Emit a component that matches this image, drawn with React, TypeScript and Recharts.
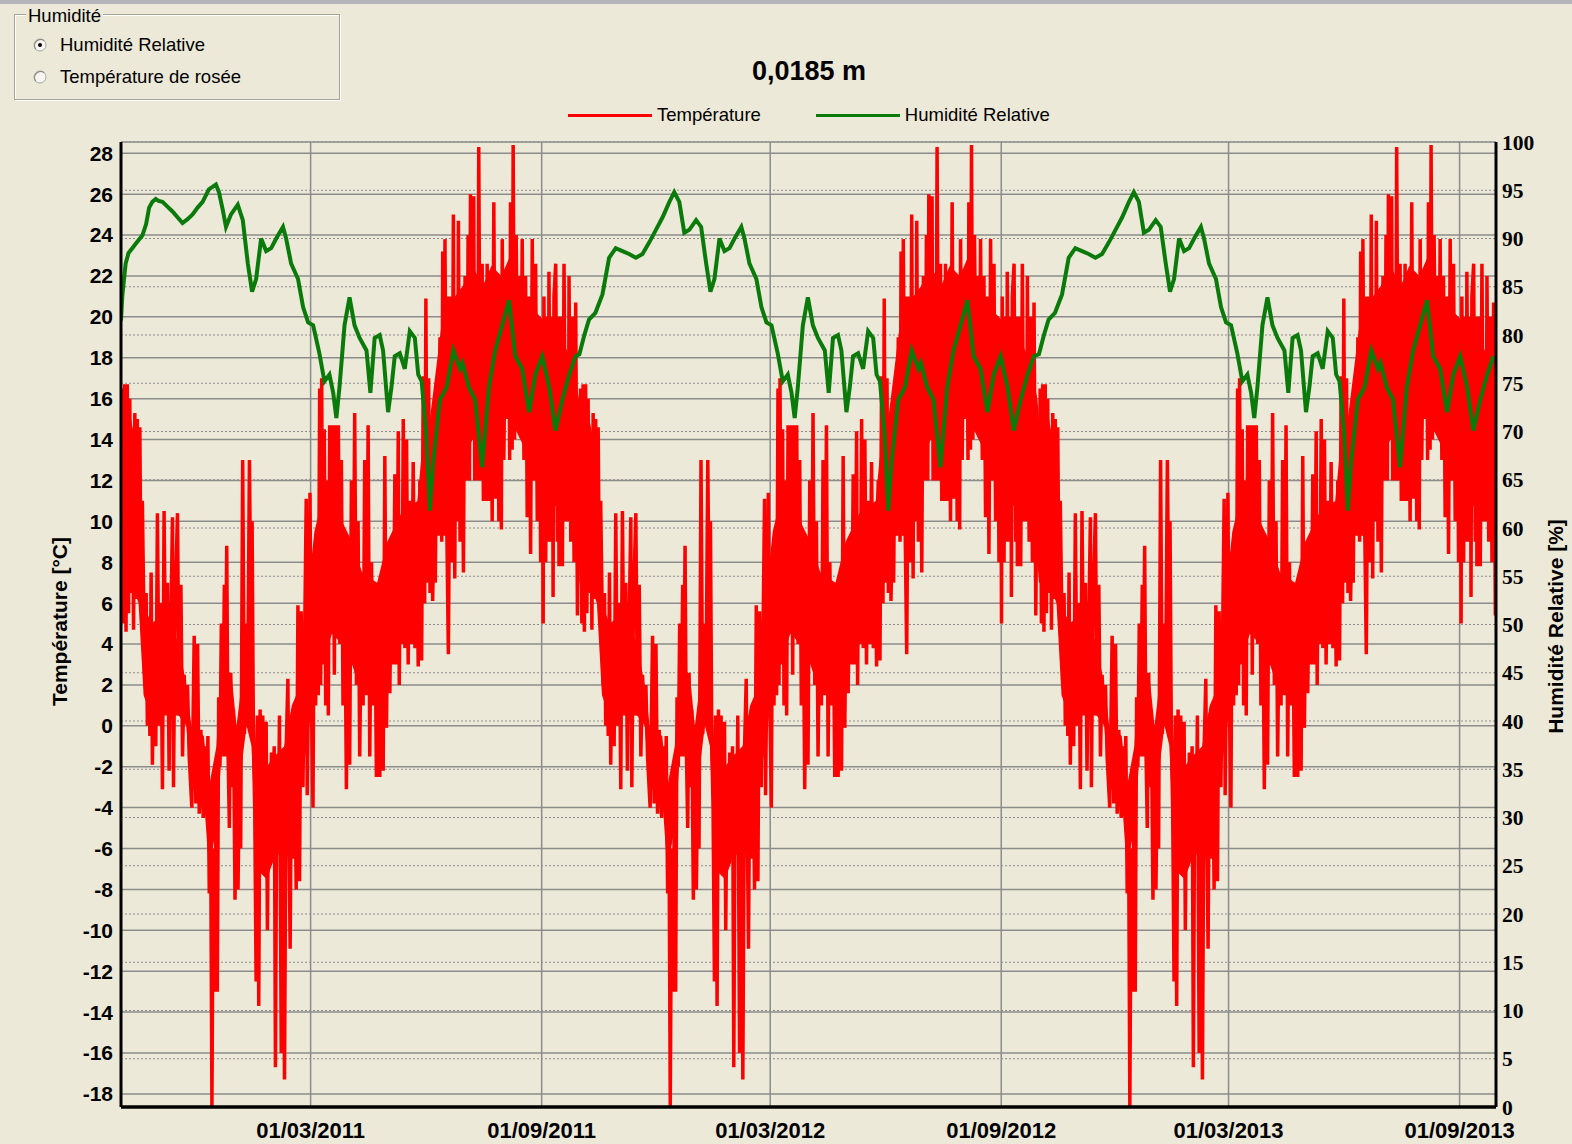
import React from 'react';
import { ComposedChart, Line, Area, XAxis, YAxis, CartesianGrid, Legend } from 'recharts';

// ---- axes / ticks ----
const xDomain: [number, number] = [0, 1095]; // days since 01/10/2010
const xTickDays = [151, 335, 517, 701, 882, 1066];
const xTickLabels = ['01/03/2011', '01/09/2011', '01/03/2012', '01/09/2012', '01/03/2013', '01/09/2013'];
const tempDomain: [number, number] = [-18.64, 28.55];
const tempTicks = [-18, -16, -14, -12, -10, -8, -6, -4, -2, 0, 2, 4, 6, 8, 10, 12, 14, 16, 18, 20, 22, 24, 26, 28];
const humDomain: [number, number] = [0, 100];
const humTicks = [0, 5, 10, 15, 20, 25, 30, 35, 40, 45, 50, 55, 60, 65, 70, 75, 80, 85, 90, 95, 100];
const seriesNames = ['Température', 'Humidité Relative'];

// start day of each yearly cycle (01/10/2010, 01/10/2011, 01/10/2012)
const cycleStarts = [0, 365, 731];

// temperature [°C] over one cycle: [day in cycle, value] (same yearly record shown three times)
const tempCycle: [number, number][] = [
  [0, 10], [1, 16.5], [2, 5], [3, 16.7], [4, 4.6], [5, 16.7], [6, 5.5], [7, 16], [8, 6.5], [9, 14], [10, 4.7], [11, 15.3], [12, 6.2], [13, 15], [14, 7], [15, 14.6], [16, 6.2], [17, 11], [18, 6.5], [19, 2], [20, 6.5], [21, 0], [22, 4], [23, -0.5], [24, 7.5], [25, -1.9],
  [26.4, 5], [27.7, -1], [29, 10.4], [30.4, 0], [31.7, 6], [33, -3.1], [34.3, 10.5], [35.7, 1], [37, 7], [38.3, -2.2], [39.7, 5], [41, 10.2], [41.8, -3], [43.1, 6], [45, 10.4], [46.3, 0.5], [47.7, 6.9], [49, -1.5], [50.3, 2.5], [51.7, 0.5], [53, 2], [54.3, -1.5], [56.4, -4], [58.3, 4.4], [59.6, -3.8], [61, 4], [62.3, -4.3], [63.6, -0.2], [65.5, -4.5], [67.1, -1], [68.2, -4], [69.2, -0.5], [70.3, -8.2], [71.4, -5], [72.4, -18.6], [73.5, -6], [74.6, -13], [75.6, -4.6], [76.7, -13],
  [77.8, 1.4], [78.8, -2], [79.9, 5], [81, -1], [82.3, 6.9], [83.1, 1], [84.2, 8.8], [85.2, -1], [86.3, -5], [87.4, 2.6], [88.4, -3], [89.5, 0.8], [90.8, -8.5], [92.1, 0], [93.2, -8], [94.3, -2], [95.3, -6], [96.9, 13], [98.3, -0.4], [99.6, 5], [100.9, 2], [102.3, 13], [103.6, 4], [104.4, 10], [105.5, -1], [106.5, -4], [107.6, -12.5], [108.6, 0.5], [109.7, -13.7], [110.8, 0.8], [111.8, -4], [112.9, 0.5], [114.2, -6], [115.6, 0.2], [116.6, -10], [117.7, -2], [118.8, -5], [119.8, -1.3], [120.9, -4.6], [122, -1], [123, -16.7], [124.1, -2], [125.2, -6], [126.2, 0.5], [127.6, -16], [128.9, -1.5], [130.2, -17.3], [131.6, -1], [132.9, 2.3], [133.9, -6], [134.7, -10.9], [135.8, -1], [136.8, -6.5], [138.2, 0], [139.5, -8], [140.9, 5.9], [142.2, -7.6], [143.5, 5.6], [144.9, -3], [146.2, 4], [147.5, 11.1], [148.3, -3.4], [149.4, 3], [150.5, 11.4], [151.5, 2], [152.9, -4], [153.9, 8.1], [155, 1], [156.1, 8], [157.1, 1.5],
  [158.2, 16.5], [159, 2], [159.8, 17], [160.9, 3], [161.9, 14.5], [163, 1], [164, 12], [165.1, 0.5], [166.2, 14.7], [167.5, 5], [168.8, 14.7], [169.9, 2.5], [170.9, 14.7], [172, 7], [173.1, 14.7], [174.2, 4], [175.5, 13], [176.8, 1], [178.2, 7], [179.5, -3.1], [180.8, 8], [182.1, -1.9], [183.5, 12], [184.8, 3], [186.1, 15.3], [187.5, 2], [188.8, 10], [190.1, -1.5], [191.5, 6], [192.8, 1], [194.1, 13], [195.5, 3], [196.8, 14.7], [198.1, -1.5], [199.5, 8], [200.8, 1], [202.1, 7], [203.4, -2.5], [204.8, 5], [206.1, -2.5], [207.4, 6], [208.8, -2.2],
  [210.1, 13.2], [211.4, -0.1], [212.8, 8], [214.1, 1.6], [215.4, 9], [216.8, 3], [218.1, 12.3], [219.4, 3], [220.8, 14.4], [221.6, 2], [222.6, 10], [223.7, 4], [224.8, 15], [226.1, 3.8], [227.4, 14], [228.7, 3], [230.1, 11], [231.4, 4], [232.7, 12.9], [234.1, 3.8], [235.4, 10], [236.7, 2.9], [238, 12], [239.4, 3.2], [240.7, 17.1], [241.8, 6], [242.8, 20.9], [243.9, 7], [245, 17], [246.1, 6.5], [247.1, 13], [248.2, 6.1], [249.3, 10], [250.3, 7], [251.4, 15], [252.7, 9.3], [254, 19], [255.4, 9], [256.2, 23.2], [257.3, 9.3], [258, 23.8], [259.4, 10], [260.7, 3.5], [262, 15], [263.4, 8], [264.7, 25], [265.8, 7.2], [266.8, 20], [267.9, 10], [268.7, 24.7], [270, 9],
  [271.4, 18], [272.7, 7.5], [274, 22], [275.4, 12], [276.4, 24], [277.5, 12], [278.3, 26], [279.6, 14], [280.9, 25.9], [281.7, 12], [282.8, 20], [283.9, 12], [284.9, 28.3], [286.2, 12], [287.6, 22.6], [288.6, 11], [290.2, 18], [290.9, 11], [291.6, 22.6], [292.9, 11], [294.2, 20], [295.6, 10], [296.9, 25.6], [298.2, 11.1], [299.6, 22], [300.9, 10], [302.2, 21], [302.9, 9.6], [303.6, 23.8], [304.9, 13], [306.2, 22], [307.5, 15], [308.9, 20], [309.5, 13], [310.2, 25.6], [311.5, 13.5], [312.3, 28.4], [313.4, 14], [314.7, 24], [316.1, 15], [317.4, 22], [318.5, 14.1], [319.5, 23.8], [320.9, 13], [322.2, 22], [323.5, 10.2], [324.9, 21], [326.2, 8.4], [327.5, 23.8], [328.9, 12], [330.2, 22.6], [331.5, 10], [332.9, 20], [334.2, 8],
  [335.5, 18], [336.2, 5], [336.8, 21], [338.2, 8], [339.5, 20], [340.2, 9], [340.8, 22.2], [342.2, 9], [343.5, 20], [344.1, 6.3], [344.8, 21], [346.2, 22.6], [347.5, 9], [348.1, 20], [348.8, 7.8], [350.2, 20], [351.5, 7.8], [352.8, 22.6], [354.2, 10], [355.5, 18], [356.2, 10], [356.8, 22], [358.2, 9], [359.5, 20], [360.8, 8], [362.1, 20.7], [363.5, 5.4], [364.8, 15],
];

// dense core of the daily temperature band over one cycle: [day in cycle, low, high]
const tempCore: [number, number, number][] = [
  [0, 7, 15], [8, 7, 15], [14, 6, 13], [18, 1.5, 6], [24, 0.5, 5], [36, 0.5, 5.5], [46, 0.5, 4], [52, 0, 2], [56, -3, 0], [66, -3.5, -0.5], [70, -7, -3], [76, -5, -1], [80, -1.5, 3], [88, -1.5, 2.5], [92, -4, 0], [96, -2, 2], [100, 0, 5], [104, -1, 4], [108, -7, -1.6], [116, -7.5, -2], [122, -6.5, -1.5], [130, -6, -1], [136, -4.5, 1], [143, -3, 2], [148, -1, 6], [154, 2, 9.5], [160, 3, 11], [168, 4.5, 11], [176, 4, 10], [184, 3, 9], [192, 1.5, 7.5], [204, 1.5, 7], [212, 4, 9], [224, 5, 10.5], [236, 5, 11],
  [239, 7, 13], [246, 8, 15], [252, 10, 18], [258, 11, 21], [266, 12, 21], [272, 13, 21.5], [280, 14, 22.5], [288, 14, 21.5], [295, 15, 22.5], [303, 15, 22], [310, 15, 23], [318, 14, 21], [326, 13, 20.5], [334, 12, 20], [342, 11, 19.5], [350, 10.5, 19], [358, 10, 18], [364.8, 8, 16],
];

// relative humidity [%]: autumn part of the first cycle
const humEarlyFirst: [number, number][] = [
  [0, 81.5], [1, 84], [3.7, 87.4], [6, 88.5], [9, 89], [12, 89.5], [17, 90.3], [20, 91.5], [22.4, 93.2], [25, 93.8], [27.7, 94.1], [30, 93.9], [33, 93.8], [37, 93.3], [41, 92.8], [45, 92.2], [49, 91.6], [53, 92], [57, 92.5], [61, 93.2], [65, 93.8], [70, 95.1], [75.6, 95.6], [78, 94.8], [81, 93], [83.6, 91.2], [87.6, 92.5], [93, 93.5], [97, 91.9],
];
// relative humidity [%]: autumn part of the second and third cycles
const humEarlyNext: [number, number][] = [
  [0, 78], [4, 80], [7.7, 81.6], [12.8, 82.3], [18.4, 84.2], [23.7, 88], [29, 89], [34.3, 88.7], [39.6, 88.4], [45, 88], [50.3, 88.4], [55.7, 89.6], [61, 90.9], [66.3, 92.2], [71.7, 93.8], [75.6, 94.8], [79.6, 93.8], [83.6, 90.6], [87.6, 90.9], [93, 91.9], [97, 91.2],
];
// relative humidity [%]: rest of each cycle
const humLate: [number, number][] = [
  [101, 87.4], [104.4, 84.5], [107.6, 85.8], [111.6, 90], [115.6, 88.7], [119.6, 89], [123.6, 90], [129, 91.2], [131.5, 90], [135.5, 87.4], [141, 85.8], [145, 82.9], [149, 81.3], [153, 81], [158, 78.1], [162, 75.2], [166, 75.9], [169, 74], [171.5, 71.4], [174, 74.6], [178, 81], [182, 83.9], [186, 81], [190, 79.7], [195.5, 78.4], [198.6, 74], [202, 79.7], [206, 80], [208.7, 78.4], [212.7, 72], [215.4, 74.6], [218, 77.8], [222, 78.1], [226, 76.5], [230, 80.4], [234, 79.7], [236.7, 75.9], [239.4, 75.2], [243, 70], [246, 61.8], [248.7, 66.9], [254, 73.3], [259.4, 74.6], [264.7, 78.4], [270, 76.5], [272, 77.1], [277, 74.6], [282, 73.3], [287.6, 66.3], [293, 74.6], [298, 78.4], [303.6, 81], [309, 83.6], [314, 77.8], [319.5, 76.5], [325, 72], [330, 75.9], [335.5, 77.8], [341, 74.6], [346, 70.1], [351.5, 73.3], [357, 75.9], [362, 77.8],
];

const tempData = cycleStarts
  .flatMap((s) => tempCycle.map(([d, v]) => ({ d: s + d, t: v })))
  .filter((p) => p.d <= xDomain[1]);

const coreData = cycleStarts
  .flatMap((s) => tempCore.map(([d, lo, hi]) => ({ d: s + d, band: [lo, hi] })))
  .filter((p) => p.d <= xDomain[1]);

const humData = cycleStarts
  .flatMap((s, i) => [...(i === 0 ? humEarlyFirst : humEarlyNext), ...humLate].map(([d, v]) => ({ d: s + d, h: v })))
  .filter((p) => p.d <= xDomain[1]);

const BG = '#ECE9D8';
const SANS = '"Liberation Sans", Arial, sans-serif';
const SERIF = '"Liberation Serif", "Times New Roman", serif';
const RED = '#FF0000';
const GREEN = '#0A7A0A';

const renderLegend = (props: any) => {
  const items = (props.payload || [])
    .filter((it: any) => seriesNames.includes(it.value))
    .sort((a: any, b: any) => seriesNames.indexOf(a.value) - seriesNames.indexOf(b.value));
  return (
    <div style={{ display: 'flex', alignItems: 'center', fontFamily: SANS, fontSize: 18.5, color: '#000' }}>
      {items.map((it: any, i: number) => (
        <div key={i} style={{ display: 'flex', alignItems: 'center', marginRight: 55 }}>
          <div style={{ width: 84, height: 3, background: it.color, marginRight: 5 }} />
          <span style={{ lineHeight: '22px' }}>{it.value}</span>
        </div>
      ))}
    </div>
  );
};

const Radio = ({ checked, top }: { checked: boolean; top: number }) => (
  <svg width={14} height={14} style={{ position: 'absolute', left: 33, top }}>
    <circle cx={7} cy={7} r={6} fill="#f7f6f1" stroke="#a8a8a0" strokeWidth={1} />
    <path d="M 2.8 11.2 A 6 6 0 0 1 11.2 2.8" fill="none" stroke="#8a8a84" strokeWidth={1.2} />
    {checked && <circle cx={7} cy={7} r={2} fill="#000" />}
  </svg>
);

const leftTitle = (props: any) => {
  const vb = props.viewBox || { x: 0, y: 142, width: 121, height: 965 };
  const x = vb.x + 67;
  const y = vb.y + vb.height / 2 - 3;
  return (
    <text x={x} y={y} transform={`rotate(-90, ${x}, ${y})`} textAnchor="middle" fontFamily={SANS} fontWeight="bold" fontSize={21} fill="#000">
      Température [°C]
    </text>
  );
};

const rightTitle = (props: any) => {
  const vb = props.viewBox || { x: 1496, y: 142, width: 76, height: 965 };
  const x = vb.x + 67;
  const y = vb.y + vb.height / 2 + 2;
  return (
    <text x={x} y={y} transform={`rotate(-90, ${x}, ${y})`} textAnchor="middle" fontFamily={SANS} fontWeight="bold" fontSize={21} fill="#000">
      Humidité Relative [%]
    </text>
  );
};

export default function App() {
  return (
    <div style={{ position: 'absolute', left: 0, top: 0, width: 1572, height: 1144, background: BG, overflow: 'hidden', fontFamily: SANS }}>
      <style>{'body{margin:0;background:' + BG + ';}'}</style>
      <div style={{ position: 'absolute', left: 0, top: 0, width: 1572, height: 4, background: '#B4B4BA' }} />

      <div style={{ position: 'absolute', left: 0, top: 0 }}>
        <ComposedChart width={1572} height={1144} margin={{ top: 142, right: 0, bottom: 0, left: 0 }}>
          <CartesianGrid xAxisId="x" yAxisId="left" stroke="#8c8c8c" strokeWidth={1.5} vertical={true} horizontal={true} />
          <CartesianGrid xAxisId="x" yAxisId="right" stroke="#8c8c8c" strokeWidth={1.2} strokeDasharray="2 2" vertical={false} horizontal={true} />
          <XAxis
            xAxisId="x"
            dataKey="d"
            type="number"
            domain={xDomain}
            allowDataOverflow
            ticks={xTickDays}
            interval={0}
            tickFormatter={(v: number) => xTickLabels[xTickDays.indexOf(v)] ?? ''}
            height={37}
            tickSize={0}
            tickMargin={15}
            axisLine={{ stroke: '#000', strokeWidth: 3.5 }}
            tick={{ fill: '#000', fontSize: 22, fontWeight: 'bold', fontFamily: SANS }}
          />
          <XAxis
            xAxisId="top"
            orientation="top"
            type="number"
            domain={xDomain}
            height={0}
            tick={false}
            tickLine={false}
            axisLine={{ stroke: '#000', strokeWidth: 2 }}
          />
          <YAxis
            yAxisId="left"
            orientation="left"
            type="number"
            domain={tempDomain}
            allowDataOverflow
            ticks={tempTicks}
            interval={0}
            width={121}
            tickSize={0}
            tickMargin={8}
            axisLine={{ stroke: '#000', strokeWidth: 3 }}
            tick={{ fill: '#000', fontSize: 21, fontWeight: 'bold', fontFamily: SANS }}
            label={{ content: leftTitle }}
          />
          <YAxis
            yAxisId="right"
            orientation="right"
            type="number"
            domain={humDomain}
            allowDataOverflow
            ticks={humTicks}
            interval={0}
            width={76}
            tickSize={0}
            tickMargin={6}
            axisLine={{ stroke: '#000', strokeWidth: 3 }}
            tick={{ fill: '#000', fontSize: 21.5, fontWeight: 'bold', fontFamily: SERIF }}
            label={{ content: rightTitle }}
          />
          <Legend
            layout="horizontal"
            verticalAlign="middle"
            align="center"
            content={renderLegend}
            wrapperStyle={{ position: 'absolute', top: 104, left: 568, width: 700, height: 22 }}
          />
          <Area
            xAxisId="x"
            yAxisId="left"
            data={coreData}
            dataKey="band"
            type="linear"
            stroke="none"
            fill={RED}
            fillOpacity={1}
            legendType="none"
            dot={false}
            activeDot={false}
            isAnimationActive={false}
          />
          <Line
            xAxisId="x"
            yAxisId="left"
            data={tempData}
            dataKey="t"
            name="Température"
            type="linear"
            stroke={RED}
            strokeWidth={3.5}
            dot={false}
            activeDot={false}
            isAnimationActive={false}
          />
          <Line
            xAxisId="x"
            yAxisId="right"
            data={humData}
            dataKey="h"
            name="Humidité Relative"
            type="linear"
            stroke={GREEN}
            strokeWidth={4}
            dot={false}
            activeDot={false}
            isAnimationActive={false}
          />
        </ComposedChart>
      </div>

      {/* title */}
      <div style={{ position: 'absolute', left: 0, top: 56, width: 1618, textAlign: 'center', fontSize: 27, fontWeight: 'bold', lineHeight: '30px', color: '#000' }}>
        0,0185 m
      </div>

      {/* group box */}
      <div style={{ position: 'absolute', left: 14, top: 14, width: 324, height: 84, border: '1px solid #A5A497', boxShadow: 'inset 1px 1px 0 #ffffff, 1px 1px 0 #ffffff' }} />
      <div style={{ position: 'absolute', left: 26, top: 6, padding: '0 2px', background: BG, fontSize: 18.5, lineHeight: '20px', color: '#000' }}>Humidité</div>
      <Radio checked={true} top={38} />
      <Radio checked={false} top={70} />
      <div style={{ position: 'absolute', left: 60, top: 34, fontSize: 18.5, lineHeight: '22px', color: '#000' }}>Humidité Relative</div>
      <div style={{ position: 'absolute', left: 60, top: 66, fontSize: 18.5, lineHeight: '22px', color: '#000' }}>Température de rosée</div>
    </div>
  );
}
